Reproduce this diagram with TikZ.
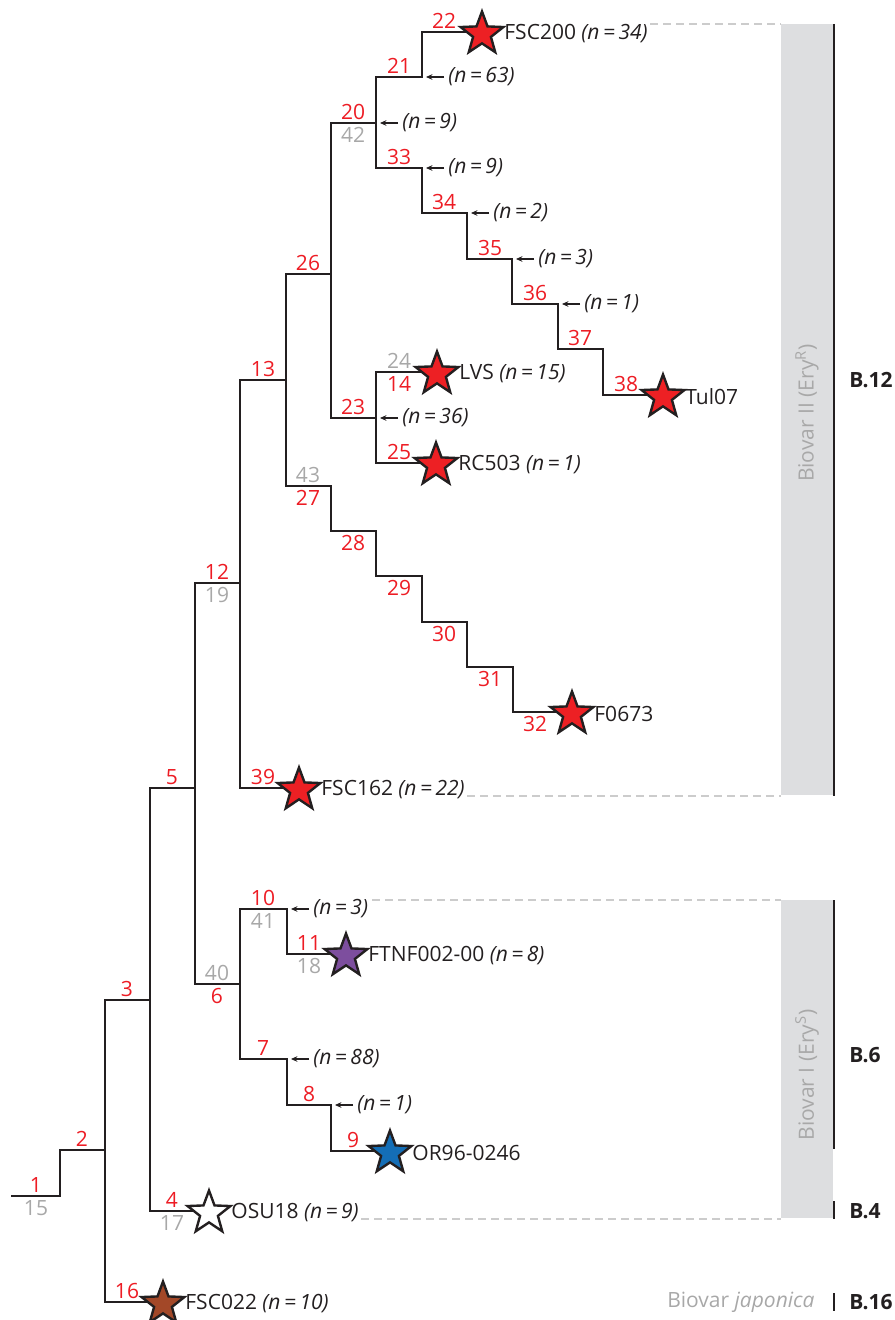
\documentclass[tikz,border=0pt]{standalone}
\usepackage{fontspec}
\setmainfont{Open Sans}
\usetikzlibrary{arrows.meta, positioning, shapes.geometric}

\definecolor{ink}{RGB}{35,31,32}
\definecolor{numred}{RGB}{237,28,36}
\definecolor{numgray}{RGB}{168,168,168}
\definecolor{barfill}{RGB}{221,222,224}
\definecolor{guidegray}{RGB}{204,204,204}
\definecolor{starred}{RGB}{237,32,36}
\definecolor{starpurple}{RGB}{125,78,158}
\definecolor{starblue}{RGB}{20,110,182}
\definecolor{starbrown}{RGB}{163,72,40}

\begin{document}
\begin{tikzpicture}[
  x=0.5pt, y=-0.5pt,
  branch/.style={draw=ink, line width=1.4pt, line cap=rect},
  strain/.style={star, star points=5, star point ratio=2.4, draw=ink,
                 line width=1.2pt, minimum size=22.5pt, inner sep=0pt, yshift=-1pt},
  strainlbl/.style={font=\fontsize{10.5pt}{12pt}\selectfont, text=ink, inner sep=1pt},
  rnum/.style={font=\fontsize{10.5pt}{12pt}\selectfont, text=numred, inner sep=0pt},
  gnum/.style={font=\fontsize{10.5pt}{12pt}\selectfont, text=numgray, inner sep=0pt},
  cnt/.style={font=\fontsize{10.5pt}{12pt}\itshape\selectfont, text=ink, inner sep=2pt},
  ptr/.style={-{Stealth[length=3.2pt, width=2.8pt]}, draw=ink, line width=0.7pt, shorten >=2pt},
  guide/.style={draw=guidegray, line width=1pt, dash pattern=on 4pt off 2.5pt},
  bar/.style={fill=barfill, draw=none, minimum width=26pt, inner sep=0pt, anchor=north west},
  bracket/.style={draw=ink, line width=1.2pt},
  clade/.style={font=\fontsize{10.5pt}{12pt}\bfseries\selectfont, text=ink, anchor=west, inner sep=0pt},
  biovar/.style={font=\fontsize{10.5pt}{12pt}\selectfont, text=numgray, inner sep=0pt}
]
\useasboundingbox (0,0) rectangle (894,1320);

% biovar bars
\node[bar, minimum height=385.5pt] (bar2) at (781,24) {};
\node[bar, minimum height=159pt] (bar1) at (781,900) {};
\node[biovar, rotate=90] (bv2) at (807,413) {Biovar II (Ery\textsuperscript{R})};
\node[biovar, rotate=90] (bv1) at (807,1075) {Biovar I (Ery\textsuperscript{S})};
\node[biovar, anchor=east] (bvj) at (815,1302) {Biovar \textit{japonica}};

% tree points
\coordinate (n0) at (12,1196);
\coordinate (n1) at (60,1196);
\coordinate (n2) at (105,1150);
\coordinate (n3) at (150,1000);
\coordinate (p16) at (163,1302);
\coordinate (n5) at (195,788);
\coordinate (p4) at (209,1211);
\coordinate (n12) at (240,583);
\coordinate (n6) at (240,984);
\coordinate (n13) at (286,380);
\coordinate (p39) at (299,788);
\coordinate (n26) at (331,274);
\coordinate (n27) at (331,486);
\coordinate (n20) at (376,123);
\coordinate (n23) at (376,418);
\coordinate (n21) at (422,77);
\coordinate (n33) at (422,168);
\coordinate (p22) at (482,32);
\coordinate (n34) at (467,213);
\coordinate (n35) at (512,259);
\coordinate (n36) at (558,304);
\coordinate (n37) at (603,349);
\coordinate (p38) at (663,395);
\coordinate (p14) at (437,372);
\coordinate (p25) at (436,463);
\coordinate (n28) at (376,531);
\coordinate (n29) at (422,576);
\coordinate (n30) at (467,622);
\coordinate (n31) at (513,667);
\coordinate (p32) at (572,712);
\coordinate (n10) at (287,909);
\coordinate (n7) at (287,1059);
\coordinate (p11) at (346,954);
\coordinate (n8) at (331,1105);
\coordinate (p9) at (390,1151);

% branches
\draw[branch] (n0) -- (n1);
\draw[branch] (n1) |- (n2);
\draw[branch] (n2) |- (n3);
\draw[branch] (n2) |- (p16);
\draw[branch] (n3) |- (n5);
\draw[branch] (n3) |- (p4);
\draw[branch] (n5) |- (n12);
\draw[branch] (n5) |- (n6);
\draw[branch] (n12) |- (n13);
\draw[branch] (n12) |- (p39);
\draw[branch] (n13) |- (n26);
\draw[branch] (n13) |- (n27);
\draw[branch] (n26) |- (n20);
\draw[branch] (n26) |- (n23);
\draw[branch] (n20) |- (n21);
\draw[branch] (n20) |- (n33);
\draw[branch] (n21) |- (p22);
\draw[branch] (n33) |- (n34);
\draw[branch] (n34) |- (n35);
\draw[branch] (n35) |- (n36);
\draw[branch] (n36) |- (n37);
\draw[branch] (n37) |- (p38);
\draw[branch] (n23) |- (p14);
\draw[branch] (n23) |- (p25);
\draw[branch] (n27) |- (n28);
\draw[branch] (n28) |- (n29);
\draw[branch] (n29) |- (n30);
\draw[branch] (n30) |- (n31);
\draw[branch] (n31) |- (p32);
\draw[branch] (n6) |- (n10);
\draw[branch] (n6) |- (n7);
\draw[branch] (n10) |- (p11);
\draw[branch] (n7) |- (n8);
\draw[branch] (n8) |- (p9);

% strains
\node[strain, fill=starred] (s22) at (p22) {};
\node[strain, fill=starred] (s14) at (p14) {};
\node[strain, fill=starred] (s25) at (p25) {};
\node[strain, fill=starred] (s38) at (p38) {};
\node[strain, fill=starred] (s32) at (p32) {};
\node[strain, fill=starred] (s39) at (p39) {};
\node[strain, fill=starpurple] (s11) at (p11) {};
\node[strain, fill=starblue] (s9) at (p9) {};
\node[strain, fill=white] (s4) at (p4) {};
\node[strain, fill=starbrown] (s16) at (p16) {};

\node[strainlbl, right=10pt of s22.center] (t22) {FSC200 \textit{(n\,=\,34)}};
\node[strainlbl, right=10pt of s14.center] (t14) {LVS \textit{(n\,=\,15)}};
\node[strainlbl, right=10pt of s25.center] (t25) {RC503 \textit{(n\,=\,1)}};
\node[strainlbl, right=10pt of s38.center] (t38) {Tul07};
\node[strainlbl, right=10pt of s32.center] (t32) {F0673};
\node[strainlbl, right=10pt of s39.center] (t39) {FSC162 \textit{(n\,=\,22)}};
\node[strainlbl, right=10pt of s11.center] (t11) {FTNF002-00 \textit{(n\,=\,8)}};
\node[strainlbl, right=10pt of s9.center] (t9) {OR96-0246};
\node[strainlbl, right=10pt of s4.center] (t4) {OSU18 \textit{(n\,=\,9)}};
\node[strainlbl, right=10pt of s16.center] (t16) {FSC022 \textit{(n\,=\,10)}};

% unsampled counts
\node[cnt, right=11pt of n21] (c21) {(n\,=\,63)};
\node[cnt, right=11pt of n20] (c20) {(n\,=\,9)};
\node[cnt, right=11pt of n33] (c33) {(n\,=\,9)};
\node[cnt, right=11pt of n34] (c34) {(n\,=\,2)};
\node[cnt, right=11pt of n35] (c35) {(n\,=\,3)};
\node[cnt, right=11pt of n36] (c36) {(n\,=\,1)};
\node[cnt, right=11pt of n23] (c23) {(n\,=\,36)};
\node[cnt, right=11pt of n10] (c10) {(n\,=\,3)};
\node[cnt, right=11pt of n7] (c7) {(n\,=\,88)};
\node[cnt, right=11pt of n8] (c8) {(n\,=\,1)};

\draw[ptr] (c21) -- (n21);
\draw[ptr] (c20) -- (n20);
\draw[ptr] (c33) -- (n33);
\draw[ptr] (c34) -- (n34);
\draw[ptr] (c35) -- (n35);
\draw[ptr] (c36) -- (n36);
\draw[ptr] (c23) -- (n23);
\draw[ptr] (c10) -- (n10);
\draw[ptr] (c7) -- (n7);
\draw[ptr] (c8) -- (n8);

% branch numbers
\node[rnum] (l1) at (36,1185) {1};
\node[gnum] (g15) at (36,1208) {15};
\node[rnum] (l2) at (82,1139) {2};
\node[rnum] (l3) at (127,989) {3};
\node[rnum] (l16) at (127,1291) {16};
\node[rnum] (l5) at (172,777) {5};
\node[rnum] (l4) at (172,1200) {4};
\node[gnum] (g17) at (172,1223) {17};
\node[rnum] (l12) at (217,572) {12};
\node[gnum] (g19) at (217,595) {19};
\node[gnum] (g40) at (217,973) {40};
\node[rnum] (l6) at (217,996) {6};
\node[rnum] (l13) at (263,369) {13};
\node[rnum] (l39) at (263,777) {39};
\node[rnum] (l10) at (263,898) {10};
\node[gnum] (g41) at (263,921) {41};
\node[rnum] (l7) at (263,1048) {7};
\node[rnum] (l26) at (308,263) {26};
\node[gnum] (g43) at (308,475) {43};
\node[rnum] (l27) at (308,498) {27};
\node[rnum] (l11) at (309,943) {11};
\node[gnum] (g18) at (309,966) {18};
\node[rnum] (l8) at (309,1094) {8};
\node[rnum] (l20) at (353,112) {20};
\node[gnum] (g42) at (353,135) {42};
\node[rnum] (l23) at (353,407) {23};
\node[rnum] (l28) at (353,543) {28};
\node[rnum] (l9) at (353,1140) {9};
\node[rnum] (l21) at (399,66) {21};
\node[rnum] (l33) at (399,157) {33};
\node[gnum] (g24) at (399,361) {24};
\node[rnum] (l14) at (399,384) {14};
\node[rnum] (l25) at (399,452) {25};
\node[rnum] (l29) at (399,588) {29};
\node[rnum] (l22) at (444,21) {22};
\node[rnum] (l34) at (444,202) {34};
\node[rnum] (l30) at (444,634) {30};
\node[rnum] (l35) at (490,248) {35};
\node[rnum] (l31) at (490,679) {31};
\node[rnum] (l36) at (535,293) {36};
\node[rnum] (l32) at (535,724) {32};
\node[rnum] (l37) at (580,338) {37};
\node[rnum] (l38) at (626,384) {38};

% guides to the biovar bars
\draw[guide] (t22.east |- bar2.north) -- (bar2.north west);
\draw[guide] (t39.east |- bar2.south) -- (bar2.south west);
\draw[guide] (c10.east |- bar1.north) -- (bar1.north west);
\draw[guide] (t4.east |- bar1.south) -- (bar1.south west);

% clade brackets
\coordinate (b6end) at (833,1149);
\coordinate (b4top) at (833,1201);
\coordinate (b16top) at (833,1293);
\coordinate (b16bot) at (833,1311);
\draw[bracket] (bar2.north east) -- (bar2.south east);
\draw[bracket] (bar1.north east) -- (bar1.north east |- b6end);
\draw[bracket] (bar1.south east |- b4top) -- (bar1.south east);
\draw[bracket] (bar1.south east |- b16top) -- (bar1.south east |- b16bot);

\node[clade] (b12) at (849,380) {B.12};
\node[clade] (b6) at (849,1055) {B.6};
\node[clade] (b4) at (849,1211) {B.4};
\node[clade] (b16) at (849,1302) {B.16};
\end{tikzpicture}
\end{document}
